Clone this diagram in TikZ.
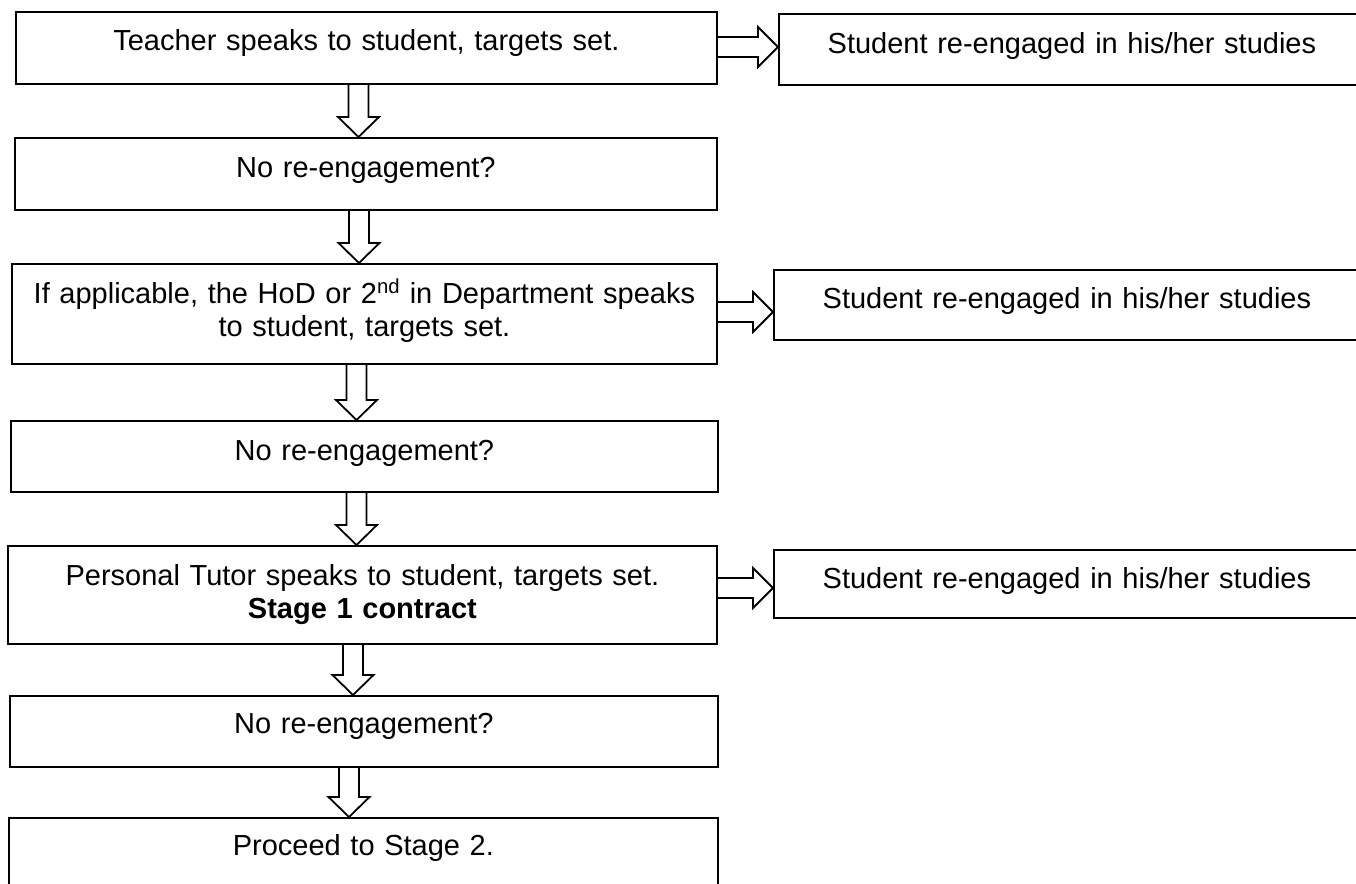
\documentclass[tikz,border=0pt]{standalone}
\usepackage{fontspec}
\setmainfont{Liberation Sans}
\usetikzlibrary{calc}
\tikzset{
  box/.style={draw, line width=1.8pt, anchor=north west, inner sep=0pt},
  txt/.style={anchor=base, inner sep=0pt, font=\fontsize{29}{33}\selectfont, align=center, text width=720pt},
  rtxt/.style={txt, text width=600pt},
  blk/.style={draw, line width=1.8pt, line join=miter},
}
\newcommand\vblk[3]{\draw[blk] let \p1=(#1,0 |- #2), \p2=(#1,0 |- #3) in
  (\x1-10pt,\y1) -- (\x1-10pt,\y2+20pt) -- (\x1-20.5pt,\y2+20pt) -- (\x1,\y2)
  -- (\x1+20.5pt,\y2+20pt) -- (\x1+10pt,\y2+20pt) -- (\x1+10pt,\y1);}
\newcommand\hblk[3]{\draw[blk] let \p1=(#2 |- 0,#1), \p2=(#3 |- 0,#1) in
  (\x1,\y1+10pt) -- (\x2-20pt,\y1+10pt) -- (\x2-20pt,\y1+20pt) -- (\x2,\y1)
  -- (\x2-20pt,\y1-20pt) -- (\x2-20pt,\y1-10pt) -- (\x1,\y1-10pt);}
\begin{document}
\begin{tikzpicture}[x=1pt,y=-1pt]
\useasboundingbox (0,0) rectangle (1356,883);
\clip (0,0) rectangle (1356,883);
% left column
\node[box, minimum width=701pt, minimum height=72pt] (b1) at (15,11) {};
\node[box, minimum width=702pt, minimum height=72pt] (b2) at (14,137) {};
\node[box, minimum width=705pt, minimum height=100pt] (b3) at (11,263) {};
\node[box, minimum width=707pt, minimum height=71pt] (b4) at (10,420) {};
\node[box, minimum width=709pt, minimum height=98pt] (b5) at (7,545) {};
\node[box, minimum width=708pt, minimum height=71pt] (b6) at (9,695) {};
\node[box, minimum width=709pt, minimum height=90pt] (b7) at (8,817) {};
% right column
\node[box, minimum width=586pt, minimum height=71pt] (r1) at (778,13) {};
\node[box, minimum width=586pt, minimum height=70pt] (r2) at (773,269) {};
\node[box, minimum width=586pt, minimum height=68pt] (r3) at (773,549) {};
% texts
\node[txt] (t1) at ([yshift=-40pt]b1.north) {Teacher speaks to student, targets set.};
\node[txt] (t2) at ([yshift=-40pt]b2.north) {No re-engagement?};
\node[txt] (t3) at ([yshift=-40pt]b3.north) {If applicable, the HoD or 2\textsuperscript{nd} in Department speaks\\to student, targets set.};
\node[txt] (t4) at ([yshift=-40pt]b4.north) {No re-engagement?};
\node[txt] (t5) at ([yshift=-40pt]b5.north) {Personal Tutor speaks to student, targets set.\\\textbf{Stage 1 contract}};
\node[txt] (t6) at ([yshift=-38pt]b6.north) {No re-engagement?};
\node[txt] (t7) at ([yshift=-38pt]b7.north) {Proceed to Stage 2.};
\node[rtxt] (u1) at ([yshift=-40pt]r1.north) {Student re-engaged in his/her studies};
\node[rtxt] (u2) at ([yshift=-39pt]r2.north) {Student re-engaged in his/her studies};
\node[rtxt] (u3) at ([yshift=-39pt]r3.north) {Student re-engaged in his/her studies};
% block arrows
\vblk{358.5}{b1.south}{b2.north}
\vblk{359}{b2.south}{b3.north}
\vblk{356.5}{b3.south}{b4.north}
\vblk{356.5}{b4.south}{b5.north}
\vblk{353}{b5.south}{b6.north}
\vblk{349}{b6.south}{b7.north}
\hblk{47}{b1.east}{r1.west}
\hblk{312}{b3.east}{r2.west}
\hblk{588}{b5.east}{r3.west}
\end{tikzpicture}
\end{document}
